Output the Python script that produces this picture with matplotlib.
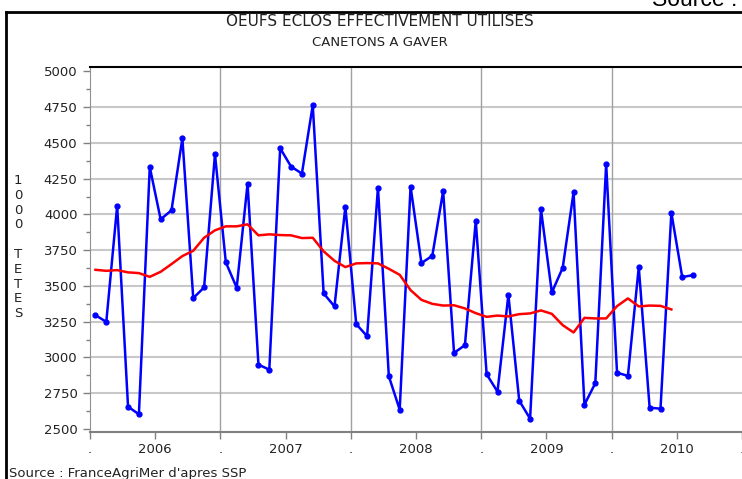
import matplotlib
matplotlib.use('Agg')
import matplotlib.pyplot as plt
from matplotlib.lines import Line2D
from matplotlib.ticker import MultipleLocator

# Monthly hatched eggs used (1000 head), Jan 2006 - Aug 2010
oeufs = [3296, 3249, 4061, 2656, 2603, 4332, 3966, 4029, 4533, 3415, 3490, 4421,
         3665, 3488, 4216, 2950, 2915, 4463, 4335, 4286, 4764, 3448, 3357, 4054,
         3233, 3149, 4188, 2869, 2635, 4195, 3660, 3711, 4164, 3032, 3086, 3956,
         2883, 2761, 3438, 2698, 2572, 4036, 3455, 3627, 4155, 2670, 2820, 4353,
         2894, 2871, 3632, 2649, 2642, 4012, 3562, 3576]

# Moving average (red curve)
moyenne = [3613, 3606, 3611, 3595, 3590, 3564, 3599, 3653, 3709, 3746, 3837, 3889,
           3917, 3917, 3931, 3854, 3861, 3856, 3854, 3835, 3837, 3742, 3676, 3632,
           3658, 3660, 3658, 3620, 3578, 3471, 3403, 3375, 3363, 3365, 3343, 3310,
           3284, 3293, 3287, 3303, 3308, 3329, 3305, 3226, 3175, 3277, 3273, 3273,
           3359, 3413, 3357, 3363, 3361, 3336]

annees = [2006, 2007, 2008, 2009, 2010]
y_ticks = [2500, 2750, 3000, 3250, 3500, 3750, 4000, 4250, 4500, 4750, 5000]

W, H = 742, 479
fig = plt.figure(figsize=(W / 100, H / 100), dpi=100)
fig.patch.set_facecolor('white')

ax = fig.add_axes([90 / W, 1 - 432 / H, 1 - 90 / W, (432 - 67) / H])

x_oeufs = [i + 0.5 for i in range(len(oeufs))]
x_moy = [i + 0.5 for i in range(len(moyenne))]

# grid
for v in y_ticks[1:-1]:
    ax.axhline(v, color='#c8c8c8', lw=1.5, zorder=1)
for k in range(1, len(annees)):
    ax.axvline(12 * k, color='#a0a0a0', lw=1, zorder=1)

ax.plot(x_oeufs, oeufs, color='#0000ff', lw=1.8, marker='o', ms=3.5, zorder=3)
ax.plot(x_moy, moyenne, color='#ff0000', lw=1.8, zorder=4)

ax.set_xlim(0, 12 * len(annees))
ax.set_ylim(2479, 5031)

# axes styling
ax.spines['right'].set_visible(False)
ax.spines['top'].set_color('black')
ax.spines['top'].set_linewidth(1.5)
ax.spines['left'].set_color('#909090')
ax.spines['bottom'].set_color('#808080')
ax.spines['bottom'].set_linewidth(1.5)

ax.set_yticks(y_ticks)
ax.yaxis.set_minor_locator(MultipleLocator(125))
xt = list(range(0, 12 * len(annees) + 1, 6))
xl = ['.' if t % 12 == 0 else str(annees[t // 12]) for t in xt]
ax.set_xticks(xt)
ax.set_xticklabels(xl)

ax.tick_params(axis='y', which='major', length=5, width=1, color='#808080',
               labelsize=9.5, labelcolor='#222222', pad=4)
ax.tick_params(axis='y', which='minor', length=3, width=1, color='#808080')
ax.tick_params(axis='x', which='major', length=5, width=1, color='#808080',
               labelsize=9.5, labelcolor='#222222', pad=3)

# titles
fig.text(380 / W, 1 - 22 / H, 'OEUFS ECLOS EFFECTIVEMENT UTILISES', ha='center',
         va='center', fontsize=11, color='#222222')
fig.text(380 / W, 1 - 43 / H, 'CANETONS A GAVER', ha='center', va='center',
         fontsize=9.5, color='#222222')

# vertical y label, letters stacked
fig.text(18 / W, 1 - 247 / H, '\n'.join('1000 TETES'), ha='center', va='center',
         fontsize=9.5, linespacing=1.18, color='#222222')

# source lines
fig.text(9 / W, 1 - 477 / H, "Source : FranceAgriMer d'apres SSP", ha='left',
         va='baseline', fontsize=9.5, color='#222222')
fig.text(737 / W, 1 - 6.5 / H, 'Source :', ha='right', va='baseline',
         fontsize=16.5, family='Liberation Sans', color='black')

# outer frame
fig.add_artist(Line2D([6 / W, 6 / W], [0, 1 - 12 / H], color='black', lw=2,
                      transform=fig.transFigure))
fig.add_artist(Line2D([6 / W, 1], [1 - 12 / H, 1 - 12 / H], color='black', lw=2,
                      transform=fig.transFigure))

fig.savefig('out.png', dpi=100)
